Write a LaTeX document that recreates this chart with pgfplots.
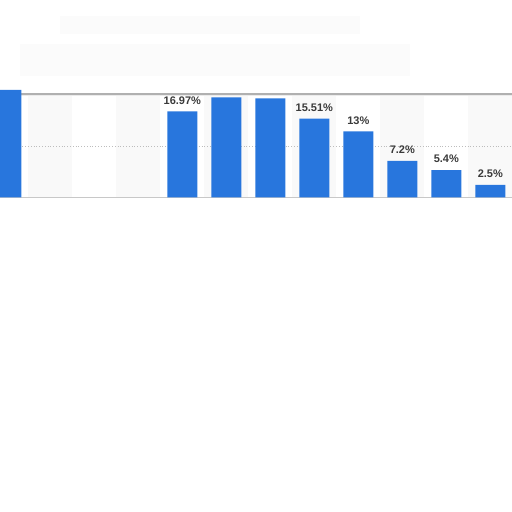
\documentclass[border=0pt]{standalone}
\usepackage{pgfplots}
\pgfplotsset{compat=1.18}
\usepackage{fontspec}
\setmainfont{Liberation Sans}

\definecolor{barblue}{HTML}{2876DD}
\definecolor{bandgray}{HTML}{F9F9F9}
\definecolor{labelgray}{HTML}{3A3A3A}
\definecolor{gridgray}{HTML}{BDBDBD}
\definecolor{framegray}{HTML}{B0B0B0}

\begin{document}
\begin{tikzpicture}
% page is 512x512 px at 0.5pt per px
\useasboundingbox (0pt,-155.98pt) rectangle (256pt,100.02pt);
% faint smudges of the blurred header
\fill[black!1.5] (10pt,62pt) rectangle (205pt,78pt);
\fill[black!1.5] (30pt,83pt) rectangle (180pt,92pt);

\begin{axis}[
at={(0pt,0pt)}, anchor=south west,
x=22pt, y=2.54pt,
xmin=-0.143, xmax=11.493,
ymin=-0.5, ymax=22,
hide x axis, hide y axis,
clip mode=individual,
]
% alternating column bands
\foreach \k in {1,3,5,7,9,11}{
  \edef\tmp{\noexpand\fill[bandgray] (axis cs:\k-0.5,0) rectangle (axis cs:\k+0.5,20.37);}
  \tmp
}
\draw[gridgray, densely dotted, line width=0.4pt] (axis cs:-0.143,10) -- (axis cs:11.493,10);
\draw[black!8, line width=1.6pt] (axis cs:-0.143,20.2) -- (axis cs:11.493,20.2);
\draw[framegray, line width=0.7pt] (axis cs:-0.143,20.37) -- (axis cs:11.493,20.37);
\draw[framegray!70, line width=0.6pt] (axis cs:-0.143,0) -- (axis cs:11.493,0);

\addplot[ybar, bar width=0.68, fill=barblue, draw=none]
coordinates {
(0,21.2)
(4,16.97)
(5,19.72)
(6,19.53)
(7,15.51)
(8,13)
(9,7.2)
(10,5.4)
(11,2.5)
};

\addplot[draw=none, point meta=explicit symbolic,
  nodes near coords,
  nodes near coords style={anchor=base, yshift=3.6pt, text=labelgray,
    font=\bfseries\fontsize{5.5}{6.5}\selectfont}]
coordinates {
(4,16.97) [16.97\%]
(7,15.51) [15.51\%]
(8,13) [13\%]
(9,7.2) [7.2\%]
(10,5.4) [5.4\%]
(11,2.5) [2.5\%]
};
\end{axis}
\end{tikzpicture}
\end{document}
